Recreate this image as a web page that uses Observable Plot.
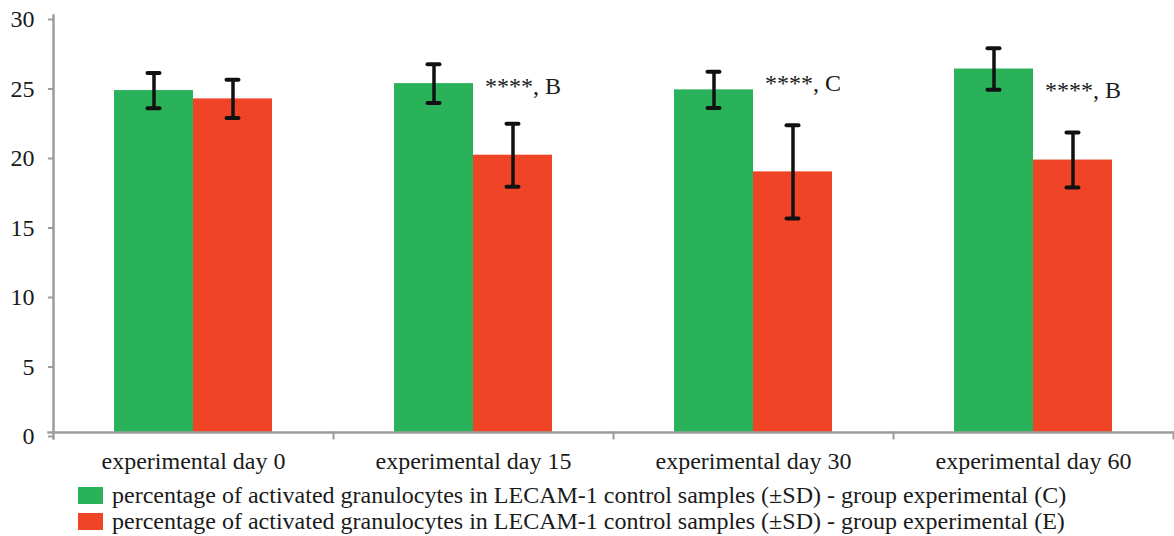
<!DOCTYPE html>
<html><head><meta charset="utf-8">
<script src="https://cdn.jsdelivr.net/npm/d3@7"></script>
<script src="https://cdn.jsdelivr.net/npm/@observablehq/plot@0.6"></script>
<style>
body{margin:0;background:#fff;font-family:"Liberation Serif","Times New Roman",serif;}
#chart{width:1174px;}
.legend{margin-left:78px;margin-top:2px;}
.item{display:flex;align-items:center;height:26px;font-size:24px;color:#1a1a1a;white-space:nowrap;}
.sw{width:25px;height:17px;margin-right:9px;flex:none;}
</style></head><body><div id="chart"></div>
<script>
const groups = ["experimental day 0", "experimental day 15", "experimental day 30", "experimental day 60"];
const series = ["C", "E"];
const seriesLabels = [
  "percentage of activated granulocytes in LECAM-1 control samples (±SD) - group experimental (C)",
  "percentage of activated granulocytes in LECAM-1 control samples (±SD) - group experimental (E)"
];
const colors = ["#29b25a", "#ef4526"];
const controlMean = [24.6, 25.1, 24.65, 26.15];
const controlSD = [1.27, 1.4, 1.31, 1.5];
const expMean = [24.0, 19.95, 18.75, 19.6];
const expSD = [1.37, 2.27, 3.35, 1.98];
const annText = ["", "****, B", "****, C", "****, B"];
const annY = [null, 24.9, 25.1, 24.6];
const yTicks = [0, 5, 10, 15, 20, 25, 30];

const rows = groups.flatMap((g, i) => [
  {group: g, series: "C", mean: controlMean[i], sd: controlSD[i]},
  {group: g, series: "E", mean: expMean[i], sd: expSD[i]}
]);
const ann = groups.map((g, i) => ({group: g, text: annText[i], y: annY[i]})).filter(d => d.text);

const font = '"Liberation Serif","Times New Roman",serif';
const axisGray = "#9c9c9c";
const ink = "#1a1a1a";

const plot = Plot.plot({
  width: 1174, height: 480,
  marginLeft: 52, marginRight: 0, marginTop: 15, marginBottom: 48,
  style: {fontFamily: font, fontSize: "24px", color: ink, background: "#fff", overflow: "visible"},
  fx: {domain: groups, paddingInner: 0, paddingOuter: 0, label: null},
  x: {domain: series, paddingInner: 0, paddingOuter: 0.753, axis: null},
  y: {domain: [0, 30], label: null},
  color: {domain: series, range: colors},
  marks: [
    Plot.barY(rows, {fx: "group", x: "series", y: "mean", fill: "series"}),
    Plot.frame({anchor: "right", insetTop: 417, insetBottom: -6, stroke: axisGray, strokeWidth: 2}),
    Plot.frame({anchor: "left", facet: "super", insetBottom: -6, stroke: axisGray, strokeWidth: 2.5}),
    Plot.frame({anchor: "bottom", facet: "super", insetLeft: -5, stroke: axisGray, strokeWidth: 2.5}),
    Plot.ruleX(rows, {fx: "group", x: "series", y1: d => d.mean - d.sd, y2: d => d.mean + d.sd, stroke: "#111", strokeWidth: 3.5}),
    Plot.tickY(rows, {fx: "group", x: "series", y: d => d.mean + d.sd, insetLeft: 33.5, insetRight: 33.5, stroke: "#111", strokeWidth: 4, strokeLinecap: "round"}),
    Plot.tickY(rows, {fx: "group", x: "series", y: d => d.mean - d.sd, insetLeft: 33.5, insetRight: 33.5, stroke: "#111", strokeWidth: 4, strokeLinecap: "round"}),
    Plot.text(ann, {fx: "group", x: () => "E", y: "y", text: "text", dx: 10, fontSize: 24, fontFamily: font, fill: ink}),
    Plot.axisY({ticks: yTicks, tickSize: 5, tickPadding: 14, dy: 4, stroke: axisGray, strokeWidth: 2, fill: ink, fontSize: 24, fontFamily: font, label: null}),
    Plot.axisFx({anchor: "bottom", tickSize: 0, tickPadding: 19, fill: ink, fontSize: 24, fontFamily: font, label: null})
  ]
});
document.getElementById("chart").appendChild(plot);

const legend = document.createElement("div");
legend.className = "legend";
series.forEach((s, i) => {
  const item = document.createElement("div");
  item.className = "item";
  const sw = document.createElement("span");
  sw.className = "sw";
  sw.style.background = colors[i];
  const t = document.createElement("span");
  t.textContent = seriesLabels[i];
  item.appendChild(sw); item.appendChild(t);
  legend.appendChild(item);
});
document.getElementById("chart").appendChild(legend);
</script>
</body></html>
